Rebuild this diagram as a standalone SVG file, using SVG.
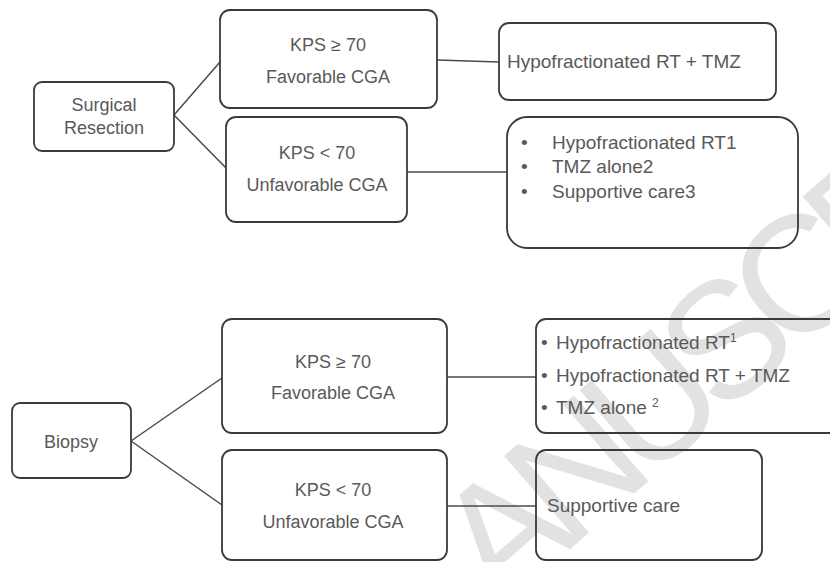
<svg xmlns="http://www.w3.org/2000/svg" width="830" height="562" viewBox="0 0 830 562">
<style>
.box{fill:none;stroke:#3a3a3a;stroke-width:1.8}
.t{font-family:"Liberation Sans",Arial,sans-serif;font-size:18px;fill:#595959}
.c{text-anchor:middle}
.r{font-size:19px}
.wm{font-family:"Liberation Sans",Arial,sans-serif;font-size:165px;letter-spacing:-18px;fill:#e2e2e2}
.ln{stroke:#4a4a4a;stroke-width:1.5;fill:none}
.sup{font-size:12px}
</style>
<rect width="830" height="562" fill="#ffffff"/>
<text class="wm" transform="translate(499,611) rotate(-41)">ANUSCR</text>
<g id="connectors">
<line class="ln" x1="174" y1="115" x2="220" y2="62"/>
<line class="ln" x1="174" y1="115" x2="226" y2="168"/>
<line class="ln" x1="437" y1="60" x2="499" y2="62"/>
<line class="ln" x1="407" y1="172" x2="507" y2="172"/>
<line class="ln" x1="131" y1="441" x2="222" y2="378"/>
<line class="ln" x1="131" y1="441" x2="222" y2="505"/>
<line class="ln" x1="447" y1="377" x2="536" y2="377"/>
<line class="ln" x1="447" y1="506" x2="536" y2="506"/>
</g>
<g id="surgical">
<rect class="box" x="34" y="82" width="140" height="69" rx="8"/>
<text class="t c" x="104" y="111">Surgical</text>
<text class="t c" x="104" y="134">Resection</text>
</g>
<g id="sr-fav">
<rect class="box" x="220" y="10" width="217" height="98" rx="10"/>
<text class="t c" x="328" y="51">KPS ≥ 70</text>
<text class="t c" x="328" y="83">Favorable CGA</text>
</g>
<g id="sr-unfav">
<rect class="box" x="226" y="117" width="181" height="105" rx="10"/>
<text class="t c" x="317" y="159">KPS &lt; 70</text>
<text class="t c" x="317" y="191">Unfavorable CGA</text>
</g>
<g id="sr-fav-tx">
<rect class="box" x="499" y="23" width="277" height="77" rx="10"/>
<text class="t r" x="507" y="68">Hypofractionated RT + TMZ</text>
</g>
<g id="sr-unfav-tx">
<rect class="box" x="507" y="117" width="291" height="131" rx="20"/>
<text class="t r" x="521" y="149">•</text>
<text class="t r" x="552" y="149">Hypofractionated RT1</text>
<text class="t r" x="521" y="173">•</text>
<text class="t r" x="552" y="173">TMZ alone2</text>
<text class="t r" x="521" y="198">•</text>
<text class="t r" x="552" y="198">Supportive care3</text>
</g>
<g id="biopsy">
<rect class="box" x="12" y="403" width="119" height="75" rx="8"/>
<text class="t c" x="71" y="448">Biopsy</text>
</g>
<g id="bx-fav">
<rect class="box" x="222" y="319" width="225" height="114" rx="10"/>
<text class="t c" x="333" y="368">KPS ≥ 70</text>
<text class="t c" x="333" y="399">Favorable CGA</text>
</g>
<g id="bx-unfav">
<rect class="box" x="222" y="450" width="225" height="110" rx="10"/>
<text class="t c" x="333" y="496">KPS &lt; 70</text>
<text class="t c" x="333" y="528">Unfavorable CGA</text>
</g>
<g id="bx-fav-tx">
<rect class="box" x="536" y="319" width="310" height="114" rx="10"/>
<text class="t r" x="541" y="349" fill="#404a55">•</text>
<text class="t r" x="556" y="349">Hypofractionated RT<tspan class="sup" dy="-7">1</tspan></text>
<text class="t r" x="541" y="382">•</text>
<text class="t r" x="556" y="382">Hypofractionated RT + TMZ</text>
<text class="t r" x="541" y="414">•</text>
<text class="t r" x="556" y="414">TMZ alone <tspan class="sup" dy="-7">2</tspan></text>
</g>
<g id="bx-unfav-tx">
<rect class="box" x="536" y="450" width="226" height="110" rx="10"/>
<text class="t r" x="547" y="512">Supportive care</text>
</g>
</svg>
